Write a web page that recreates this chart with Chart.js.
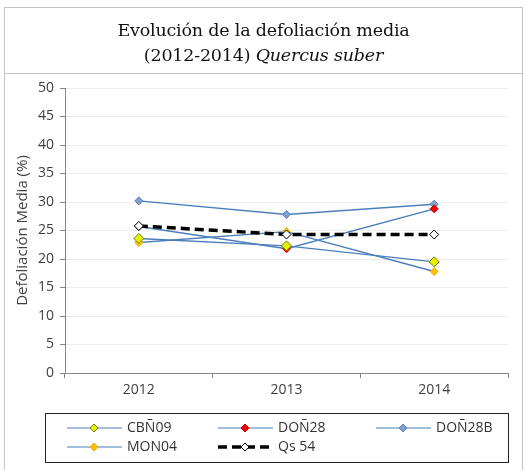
<!DOCTYPE html>
<html>
<head>
<meta charset="utf-8">
<script src="https://cdn.jsdelivr.net/npm/chart.js@4.4.0/dist/chart.umd.min.js"></script>
<style>
  html, body { margin: 0; padding: 0; background: #fff; }
  #wrap { position: relative; width: 526px; height: 470px; overflow: hidden; }
  #frame { position: absolute; left: 4px; top: 7px; width: 519px; height: 480px; border: 1px solid #c4c4c4; box-sizing: border-box; }
  #title { position: absolute; left: 4px; top: 7px; width: 519px; height: 67px; border: 1px solid #c4c4c4; box-sizing: border-box;
           font-family: "DejaVu Serif", serif; font-size: 17.5px; letter-spacing: -0.2px; line-height: 25px; color: #111; text-align: center; padding-top: 10px; }
  #c { position: absolute; left: 0; top: 0; }
</style>
</head>
<body>
<div id="wrap">
  <div id="frame"></div>
  <canvas id="c" width="526" height="470"></canvas>
  <div id="title">Evolución de la defoliación media<br>(2012-2014) <i>Quercus suber</i></div>
</div>
<script>
// years on the x axis and mean defoliation (%) per plot
var years = ['2012', '2013', '2014'];
var seriesNames = ['CBÑ09', 'DOÑ28', 'DOÑ28B', 'MON04', 'Qs 54'];
var cbn09 = [23.6, 22.3, 19.5];
var don28 = [25.7, 21.8, 28.8];
var don28b = [30.2, 27.8, 29.6];
var mon04 = [22.9, 24.8, 17.8];
var qs54 = [25.8, 24.3, 24.3];
var yMin = 0, yMax = 50, yStep = 5;

var LINE = '#4a7ebb';
var FONT = '"Open Sans", "Liberation Sans", sans-serif';

function ds(label, data, fill, border, radius, extra) {
    var d = {
        label: label, data: data,
        borderColor: LINE, borderWidth: 1.4,
        pointStyle: 'rectRot', pointRadius: radius,
        pointBackgroundColor: fill, pointBorderColor: border, pointBorderWidth: 1
    };
    for (var k in extra) d[k] = extra[k];
    return d;
}

var datasets = [
    ds(seriesNames[0], cbn09, '#e8f000', '#6d7d1a', 5, { order: 2 }),
    ds(seriesNames[1], don28, '#ff0000', '#c00000', 4, { order: 3 }),
    ds(seriesNames[2], don28b, '#7fa0d0', '#5b7fb5', 4, { order: 4 }),
    ds(seriesNames[3], mon04, '#ffc000', '#f0a800', 4, { order: 5 }),
    ds(seriesNames[4], qs54, '#ffffff', '#000000', 4.5,
        { order: 1, borderColor: '#000000', borderWidth: 3.5, borderDash: [9, 5] })
];

// Excel-like legend in a box below the axis
var boxLegend = {
    id: 'boxLegend',
    afterDraw: function (chart) {
        var ctx = chart.ctx;
        ctx.save();
        ctx.strokeStyle = '#222';
        ctx.lineWidth = 1;
        ctx.strokeRect(45.5, 413.5, 463, 49);
        var cols = [67, 218, 376], rows = [428, 447];
        ctx.font = '14px ' + FONT;
        ctx.fillStyle = '#333';
        ctx.textBaseline = 'middle';
        chart.data.datasets.forEach(function (d, i) {
            var x = cols[i % 3], y = rows[Math.floor(i / 3)];
            ctx.save();
            ctx.strokeStyle = d.borderColor;
            ctx.lineWidth = d.borderDash ? d.borderWidth : 1.2;
            if (d.borderDash) ctx.setLineDash(d.borderDash);
            ctx.beginPath(); ctx.moveTo(x, y); ctx.lineTo(x + 55, y); ctx.stroke();
            ctx.restore();
            ctx.save();
            ctx.fillStyle = d.pointBackgroundColor; ctx.strokeStyle = d.pointBorderColor;
            ctx.lineWidth = 1;
            ctx.beginPath();
            var r = Math.min(d.pointRadius, 4);
            ctx.moveTo(x + 27, y - r); ctx.lineTo(x + 27 + r, y); ctx.lineTo(x + 27, y + r); ctx.lineTo(x + 27 - r, y); ctx.closePath();
            ctx.fill(); ctx.stroke();
            ctx.restore();
            ctx.fillText(d.label, x + 60, y);
        });
        ctx.restore();
    }
};

new Chart(document.getElementById('c'), {
    type: 'line',
    data: { labels: years, datasets: datasets },
    plugins: [boxLegend],
    options: {
        responsive: false,
        animation: false,
        layout: { padding: { left: 14, right: 18, top: 88, bottom: 61 } },
        plugins: { legend: { display: false }, title: { display: false }, tooltip: { enabled: false } },
        elements: { line: { tension: 0 } },
        scales: {
            x: {
                offset: true,
                afterFit: function (s) { s.height = 36; },
                grid: { display: true, drawOnChartArea: false, offset: true, tickLength: 5, tickColor: '#868686' },
                border: { color: '#868686', width: 1 },
                ticks: { color: '#404040', padding: 4, font: { family: FONT, size: 14 } }
            },
            y: {
                min: yMin, max: yMax,
                afterFit: function (s) { s.width = 51; },
                ticks: { stepSize: yStep, color: '#404040', padding: 6, font: { family: FONT, size: 14 } },
                grid: { color: '#ededed', tickLength: 5, tickColor: '#868686' },
                border: { color: '#868686', width: 1 },
                title: { display: true, text: 'Defoliación Media (%)', color: '#404040', padding: 0,
                         font: { family: FONT, size: 15 } }
            }
        }
    }
});
</script>
</body>
</html>
